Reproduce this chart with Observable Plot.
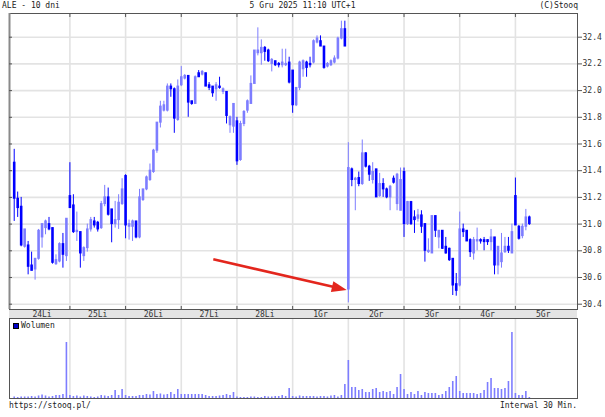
<!DOCTYPE html>
<html><head><meta charset="utf-8">
<script src="https://cdn.jsdelivr.net/npm/d3@7"></script>
<script src="https://cdn.jsdelivr.net/npm/@observablehq/plot@0.6"></script>
<style>
body{margin:0;background:#fff;}
#wrap{position:relative;width:605px;height:417px;font-family:"DejaVu Sans Mono",monospace;font-size:8px;color:#222;overflow:hidden;}
.t{position:absolute;white-space:pre;line-height:8px;}
#wrap svg{position:absolute;left:0;overflow:visible;}
#band{position:absolute;left:9px;width:568px;top:309px;height:9px;background:#e4e4e4;}
</style></head><body>
<div id="wrap">
  <div id="band"></div>
  <div class="t" style="left:2px;top:2px">ALE - 10 dni</div>
  <div class="t" style="left:0;width:605px;text-align:center;top:2px">5 Gru 2025 11:10 UTC+1</div>
  <div class="t" style="right:27px;top:2px">(C)Stooq</div>
  <div class="t" style="left:9px;top:402px">https://stooq.pl/</div>
  <div class="t" style="right:28px;top:402px">Interwal 30 Min.</div>
</div>
<script>
// ---- data ----
const dayLabels = ["24Li","25Li","26Li","27Li","28Li","1Gr","2Gr","3Gr","4Gr","5Gr"];
const priceTicks = [30.4, 30.6, 30.8, 31.0, 31.2, 31.4, 31.6, 31.8, 32.0, 32.2, 32.4];
// 30-minute candles per day, [open, high, low, close]
const d24Li = [[31.46,31.56,31.02,31.19],[31.19,31.24,31.05,31.12],[31.13,31.2,30.83,30.84],[30.83,30.96,30.82,30.96],[30.84,30.87,30.62,30.68],[30.69,30.79,30.65,30.65],[30.66,30.74,30.58,30.74],[30.74,30.96,30.73,30.95],[30.9,31.0,30.82,31.0],[30.97,31.03,30.92,31.02],[31.0,31.05,30.95,30.96],[30.97,30.97,30.70,30.71],[30.7,30.77,30.69,30.73],[30.72,30.86,30.71,30.85],[30.85,30.93,30.67,30.77],[30.76,31.04,30.72,31.04]];
const d25Li = [[31.21,31.46,31.12,31.12],[31.14,31.22,30.93,30.94],[30.94,31.09,30.87,30.95],[30.94,30.94,30.67,30.78],[30.76,30.83,30.72,30.82],[30.82,31.0,30.79,30.96],[30.96,31.05,30.94,31.03],[31.02,31.05,30.97,30.99],[31.01,31.02,30.94,30.96],[30.97,31.17,30.96,31.15],[31.15,31.29,31.13,31.2],[31.2,31.27,31.06,31.07],[31.11,31.11,30.86,31.0],[31.0,31.17,30.97,31.03],[31.03,31.22,30.96,31.16],[31.15,31.34,31.14,31.26]];
const d26Li = [[31.36,31.37,30.89,30.99],[30.98,31.03,30.88,31.0],[30.98,31.03,30.87,31.02],[31.02,31.02,30.89,30.9],[30.9,31.26,30.89,31.2],[31.18,31.26,31.17,31.26],[31.26,31.36,31.25,31.35],[31.33,31.45,31.32,31.4],[31.39,31.56,31.38,31.55],[31.55,31.76,31.53,31.76],[31.76,31.92,31.72,31.88],[31.85,31.92,31.84,31.89],[31.85,32.05,31.84,32.03],[32.03,32.05,31.95,32.01],[32.01,32.02,31.68,31.79],[31.78,32.08,31.77,32.03]];
const d27Li = [[32.04,32.18,32.03,32.1],[32.09,32.12,32.08,32.11],[32.11,32.11,31.8,31.91],[31.92,31.92,31.89,31.9],[31.9,32.11,31.9,32.1],[32.13,32.15,32.1,32.1],[32.12,32.15,32.11,32.14],[32.13,32.13,32.03,32.03],[32.04,32.06,32.0,32.02],[32.03,32.03,31.95,31.98],[32.01,32.06,31.92,32.04],[32.03,32.1,32.01,32.02],[31.99,32.02,31.97,32.01],[31.99,31.99,31.75,31.81],[31.74,31.81,31.68,31.8],[31.73,31.9,31.68,31.9]];
const d28Li = [[31.77,31.8,31.44,31.47],[31.48,31.77,31.47,31.75],[31.75,31.85,31.73,31.84],[31.85,31.93,31.83,31.92],[31.9,32.11,31.9,32.05],[32.05,32.3,32.05,32.3],[32.28,32.47,32.26,32.3],[32.28,32.38,32.19,32.32],[32.32,32.33,32.22,32.29],[32.3,32.31,32.21,32.22],[32.2,32.24,32.14,32.23],[32.22,32.22,32.18,32.19],[32.2,32.21,32.17,32.19],[32.19,32.31,32.17,32.21],[32.19,32.31,32.18,32.2],[32.21,32.25,32.05,32.06]];
const d1Gr = [[32.15,32.15,31.83,31.89],[31.89,32.02,31.88,32.02],[32.02,32.22,32.0,32.21],[32.16,32.23,32.1,32.22],[32.21,32.22,32.1,32.17],[32.2,32.25,32.17,32.19],[32.21,32.38,32.2,32.37],[32.36,32.41,32.35,32.39],[32.37,32.41,32.33,32.33],[32.33,32.33,32.16,32.17],[32.18,32.21,32.17,32.2],[32.19,32.23,32.18,32.22],[32.21,32.26,32.2,32.24],[32.24,32.4,32.23,32.39],[32.39,32.52,32.38,32.46],[32.46,32.52,32.33,32.33]];
const d2Gr = [[30.51,31.61,30.41,31.42],[31.41,31.42,31.28,31.33],[31.33,31.35,31.1,31.34],[31.345,31.39,31.28,31.3],[31.3,31.63,31.29,31.53],[31.53,31.535,31.42,31.43],[31.43,31.44,31.32,31.37],[31.33,31.46,31.3,31.39],[31.41,31.41,31.2,31.2],[31.21,31.38,31.2,31.3],[31.3,31.34,31.2,31.26],[31.26,31.27,31.19,31.2],[31.2,31.29,31.1,31.28],[31.34,31.36,31.3,31.31],[31.15,31.38,31.1,31.37],[31.1,31.42,31.1,31.33]];
const d3Gr = [[31.39,31.42,30.9,31.0],[31.0,31.17,30.99,31.165],[31.165,31.17,30.99,31.0],[31.05,31.1,30.93,31.03],[31.04,31.11,31.015,31.065],[31.065,31.1,30.93,30.98],[31.0,31.0,30.715,30.8],[30.79,30.89,30.78,30.8],[30.78,31.06,30.78,31.06],[31.06,31.06,30.9,30.95],[30.9,30.95,30.815,30.95],[30.95,30.95,30.81,30.815],[30.83,30.9,30.775,30.78],[30.815,30.82,30.72,30.73],[30.74,30.74,30.465,30.54],[30.55,30.63,30.46,30.5]];
const d4Gr = [[30.54,31.09,30.53,30.96],[30.96,31.0,30.9,30.94],[30.95,30.95,30.87,30.87],[30.88,30.89,30.75,30.79],[30.78,30.9,30.73,30.88],[30.87,30.97,30.8,30.88],[30.88,30.89,30.85,30.87],[30.88,30.9,30.8,30.865],[30.88,30.88,30.84,30.865],[30.865,30.96,30.8,30.9],[30.9,30.9,30.62,30.69],[30.69,30.83,30.62,30.83],[30.715,30.93,30.67,30.78],[30.79,30.9,30.78,30.83],[30.83,30.9,30.78,30.8],[30.78,31.0,30.78,30.94]];
const d5Gr = [[31.21,31.345,30.99,30.99],[30.98,30.99,30.88,30.89],[30.91,31.0,30.89,30.98],[30.98,31.11,30.95,31.05],[31.05,31.06,30.99,31.0]];
// volume per 30-min bar (thousand shares)
const v24Li = [38,25,38,38,38,50,38,63,88,63,38,50,75,75,100,1400];
const v25Li = [75,50,63,38,63,50,38,25,38,75,63,50,75,200,75,225];
const v26Li = [75,50,50,50,75,75,100,88,175,100,113,88,100,150,100,225];
const v27Li = [100,100,100,100,100,100,100,75,50,50,50,63,75,100,75,150];
const v28Li = [38,25,25,25,38,38,25,25,50,38,38,50,50,75,50,250];
const v1Gr = [50,38,63,50,50,50,50,38,50,50,38,63,75,38,75,350];
const v2Gr = [950,275,275,200,225,150,150,225,250,150,175,150,175,100,275,600];
const v3Gr = [225,100,150,100,175,75,150,125,125,125,75,100,175,275,425,550];
const v4Gr = [175,125,125,125,125,100,125,200,400,500,250,250,225,250,425,1650];
const v5Gr = [125,75,75,175,25];
// annotation arrow (day index, price)
const arrowNote = [{x1: 3.584, y1: 30.733, x2: 5.98, y2: 30.503}];

// ---- build ----
const slotsPerDay = 16;
const dayCandles = [d24Li,d25Li,d26Li,d27Li,d28Li,d1Gr,d2Gr,d3Gr,d4Gr,d5Gr];
const dayVolumes = [v24Li,v25Li,v26Li,v27Li,v28Li,v1Gr,v2Gr,v3Gr,v4Gr,v5Gr];
const candles = dayCandles.flatMap((arr, di) => arr.map(([o,h,l,c], k) => ({x: di + k/slotsPerDay, o, h, l, c, top: Math.max(o,c), bot: Math.min(o,c), up: c > o})));
const volumes = dayVolumes.flatMap((arr, di) => arr.map((v, k) => ({x: di + k/slotsPerDay, v})));
const upC = candles.filter(d => d.up), dnC = candles.filter(d => !d.up);
const boundaries = d3.range(1, dayLabels.length);
const xDomain = [-0.0845, 10.115];
const UP = "#7d7dff", DN = "#0000ff", GRID = "#e3e3e3", EDGE = "#555";

function arrowMark(data) {
  return (index, scales) => {
    const g = d3.create("svg:g");
    for (const a of data) {
      const x1 = scales.x(a.x1), y1 = scales.y(a.y1), x2 = scales.x(a.x2), y2 = scales.y(a.y2);
      const ang = Math.atan2(y2 - y1, x2 - x1), L = 15, W = 5.5;
      const bx = x2 - L*Math.cos(ang), by = y2 - L*Math.sin(ang);
      g.append("line").attr("x1", x1).attr("y1", y1).attr("x2", bx + 2*Math.cos(ang)).attr("y2", by + 2*Math.sin(ang))
        .attr("stroke", "#e3261d").attr("stroke-width", 2.6);
      g.append("path").attr("fill", "#e3261d")
        .attr("d", `M${x2},${y2}L${bx - W*Math.sin(ang)},${by + W*Math.cos(ang)}L${bx + W*Math.sin(ang)},${by - W*Math.cos(ang)}Z`);
    }
    return g.node();
  };
}

const common = {fontFamily: "DejaVu Sans Mono, monospace", fontSize: "8px", background: "none", color: "#333", overflow: "visible"};

const pricePlot = Plot.plot({
  width: 605, height: 318,
  marginTop: 13, marginBottom: 9, marginLeft: 9, marginRight: 28,
  x: {domain: xDomain, axis: null},
  y: {domain: [30.3603, 32.5775], axis: null},
  style: common,
  marks: [
    Plot.ruleY(priceTicks, {y: d => d, stroke: GRID, strokeWidth: 1.6}),
    Plot.ruleX(boundaries, {x: d => d, stroke: GRID, strokeWidth: 1.6}),
    Plot.ruleX(upC, {x: "x", y1: "l", y2: "h", stroke: UP, strokeWidth: 1}),
    Plot.ruleX(dnC, {x: "x", y1: "l", y2: "h", stroke: DN, strokeWidth: 1}),
    Plot.ruleX(upC, {x: "x", y1: "top", y2: "bot", stroke: UP, strokeWidth: 2.6, insetTop: -0.5, insetBottom: -0.5}),
    Plot.ruleX(dnC, {x: "x", y1: "top", y2: "bot", stroke: DN, strokeWidth: 2.6, insetTop: -0.5, insetBottom: -0.5}),
    arrowMark(arrowNote),
    Plot.frame({stroke: EDGE}),
    Plot.ruleX([xDomain[0]], {x: d => d, stroke: "#8a8a8a", strokeWidth: 2}),
    Plot.tickX(boundaries, {x: d => d, stroke: EDGE, insetBottom: 292}),
    Plot.tickX(boundaries, {x: d => d, stroke: EDGE, insetTop: 293}),
    Plot.tickY(priceTicks, {y: d => d, stroke: EDGE, insetRight: 565}),
    Plot.axisY(priceTicks, {anchor: "right", tickSize: 4, tickPadding: 1, tickFormat: d => d.toFixed(1), label: null, stroke: EDGE, fill: "#333", fontSize: 8}),
    Plot.text(dayLabels, {x: (d, i) => i + 0.5, frameAnchor: "bottom", lineAnchor: "middle", dy: 5, fill: "#333", fontSize: 8})
  ]
});
pricePlot.style.top = "0px";

const volPlot = Plot.plot({
  width: 605, height: 81,
  marginTop: 0, marginBottom: 1, marginLeft: 9, marginRight: 28,
  x: {domain: xDomain, axis: null},
  y: {domain: [0, 2000], axis: null},
  style: common,
  marks: [
    Plot.ruleX(boundaries, {x: d => d, stroke: GRID, strokeWidth: 1.6}),
    Plot.ruleX(volumes, {x: "x", y1: 0, y2: "v", stroke: UP, strokeWidth: 1.6}),
    Plot.frame({stroke: EDGE})
  ]
});
volPlot.style.top = "318px";

const wrap = document.getElementById("wrap");
wrap.appendChild(pricePlot);
wrap.appendChild(volPlot);

// volume legend
const sq = document.createElement("div");
sq.style.cssText = "position:absolute;left:13px;top:323px;width:4px;height:4px;background:#0000c8;border:1px solid #000;";
wrap.appendChild(sq);
const lg = document.createElement("div");
lg.className = "t"; lg.style.left = "21px"; lg.style.top = "322px"; lg.textContent = "Wolumen";
wrap.appendChild(lg);
</script>
</body></html>
